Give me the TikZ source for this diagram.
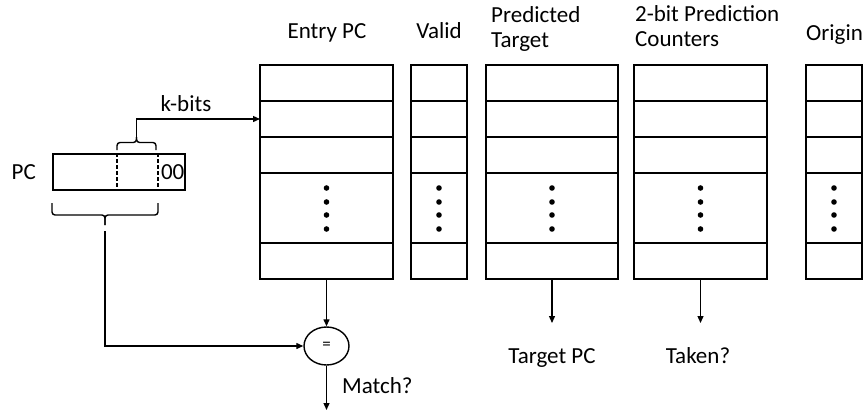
\documentclass[tikz,border=0pt]{standalone}
\usepackage{fontspec}
\setmainfont{Carlito}
\usetikzlibrary{positioning, calc, arrows.meta, shapes.geometric}
\tikzset{
x=1pt, y=-1pt, % one unit per pixel, y grows downwards
>={Triangle[length=7pt,width=6pt]}, % small filled arrow heads
every node/.style={font=\fontsize{23}{25}\selectfont, inner sep=0pt}, % labels
cell/.style={draw, line width=1.7pt, outer sep=0pt, minimum height=36pt, anchor=north}, % one table entry
wire/.style={->, line width=1.3pt}, % data lines
sqbrace/.style={line width=1.4pt, rounded corners=3pt}, % field braces
}

\begin{document}
\begin{tikzpicture}
        \useasboundingbox (0,0) rectangle (863,413);

        % table columns, five rows each, the fourth one holds the dots
        \foreach \name/\x/\w in {entry/260/133, valid/411/56, target/486/132, count/634/133, orig/806/56}{
            \node[cell, minimum width=\w pt, anchor=north west] (\name1) at (\x,65) {};
            \node[cell, minimum width=\w pt, below=0pt of \name1] (\name2) {};
            \node[cell, minimum width=\w pt, below=0pt of \name2] (\name3) {};
            \node[cell, minimum width=\w pt, minimum height=70pt, below=0pt of \name3] (\name4) {};
            \node[cell, minimum width=\w pt, below=0pt of \name4] (\name5) {};
            \foreach \d in {15,29,42,56}
                \fill ($(\name4.north)+(0,\d)$) circle (2.8pt);
        }

        % column headings
        \node[anchor=base] (hentry) at (327,38) {Entry PC};
        \node[anchor=base] (hvalid) at (439,38) {Valid};
        \node[anchor=north west, align=left] (htarget) at (491,6) {Predicted\\Target};
        \node[anchor=north west, align=left] (hcount) at (635,5) {2-bit Prediction\\Counters};
        \node[anchor=base west] (horig) at (806,40) {Origin};

        % the PC register
        \node[draw, line width=1.6pt, minimum width=132pt, minimum height=36pt, anchor=north west] (pc) at (52,153) {};
        \node[left=16pt of pc] (pclabel) {PC};
        \node[anchor=east, xshift=-1pt] (low) at (pc.east) {00};
        \draw[line width=1.3pt, dash pattern=on 4pt off 2pt] ($(pc.north west)+(65,0)$) -- ($(pc.south west)+(65,0)$);
        \draw[line width=1.3pt, dash pattern=on 4pt off 2pt] ($(pc.north west)+(106,0)$) -- ($(pc.south west)+(106,0)$);

        % index bits
        \coordinate (ktip) at (136.5,137);
        \draw[sqbrace] (117,150) |- (136.5,142.5) -- (ktip);
        \draw[sqbrace] (156,150) |- (136.5,142.5) -- (ktip);
        \draw[wire] (ktip) |- node[pos=0.7, above=7pt] (kbits) {k-bits} (entry2.west);

        % tag bits
        \coordinate (tagtip) at (105,225);
        \draw[sqbrace] (52,203) |- (105,215) -- (tagtip);
        \draw[sqbrace] (158,203) |- (105,215) -- (tagtip);
        \coordinate (tagtail) at (105,231);

        % tag compare
        \node[draw, ellipse, line width=1.4pt, minimum width=45pt, minimum height=38pt, font=\fontsize{17}{17}\selectfont] (cmp) at (326.5,346) {=};
        \draw[wire] (entry5.south) -- (cmp.north);
        \draw[wire] (tagtail) |- (cmp.west);
        \coordinate (matchend) at (326.5,410);
        \draw[wire] (cmp.south) -- (matchend);
        \node[anchor=base west] (match) at (342,393) {Match?};

        % outputs
        \coordinate (tpcend) at (552,323);
        \coordinate (takenend) at (700.5,323);
        \draw[wire] (target5.south) -- (tpcend);
        \draw[wire] (count5.south) -- (takenend);
        \node[anchor=base] (tpc) at (552,363) {Target PC};
        \node[anchor=base] (taken) at (698,363) {Taken?};
    \end{tikzpicture}
\end{document}
